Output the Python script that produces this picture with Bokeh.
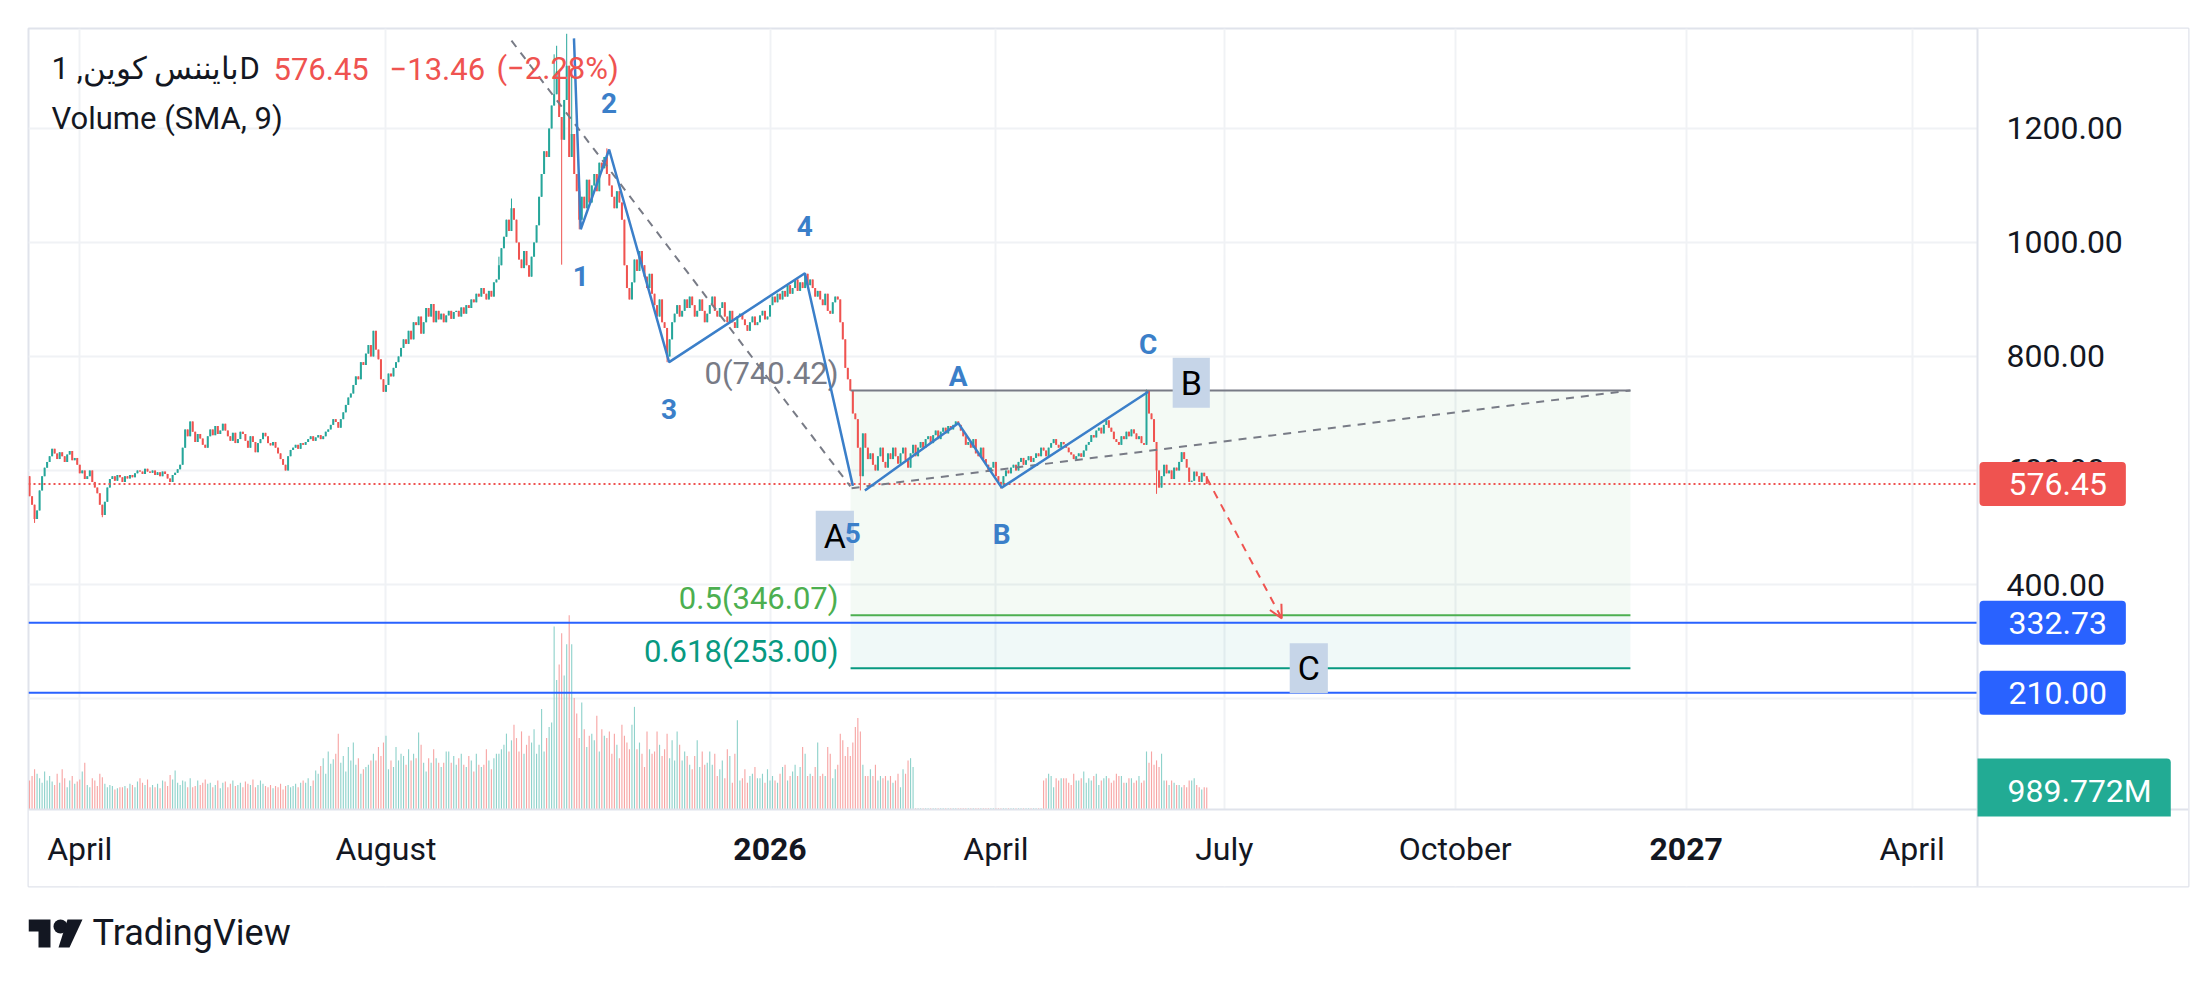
import pandas as pd
from bokeh.plotting import figure
from bokeh.models import (Range1d, FixedTicker, NumeralTickFormatter, Label, Arrow,
                          OpenHead, ColumnDataSource)
from bokeh.layouts import column
from bokeh.embed import file_html
from bokeh.resources import INLINE
from bokeh.core.properties import value

# ---------------- data ----------------
START_DATE = "2025-03-12"
FIRST_OPEN = 590.0
closes = [
    555, 540, 515, 530, 565, 590, 605, 615, 625, 638,
    630, 620, 632, 625, 615, 628, 634, 618, 622, 610,
    595, 600, 585, 590, 600, 580, 570, 560, 540, 522,
    545, 570, 585, 590, 582, 592, 588, 580, 590, 586,
    592, 588, 595, 600, 598, 594, 603, 598, 596, 600,
    592, 597, 590, 598, 594, 586, 580, 592, 596, 602,
    610, 640, 672, 660, 686, 668, 650, 664, 656, 645,
    640, 660, 672, 662, 678, 664, 670, 682, 670, 660,
    652, 666, 648, 655, 668, 664, 652, 640, 660, 650,
    632, 648, 655, 666, 660, 648, 644, 650, 640, 630,
    620, 610, 600, 625, 636, 640, 645, 638, 648, 645,
    650, 655, 660, 652, 658, 662, 655, 660, 668, 672,
    680, 690, 685, 675, 690, 702, 715, 728, 735, 750,
    765, 760, 790, 785, 805, 820, 800, 845, 812, 795,
    760, 738, 750, 770, 765, 780, 790, 800, 815, 830,
    822, 845, 830, 860, 855, 870, 840, 860, 885, 870,
    892, 860, 880, 865, 875, 860, 872, 880, 866, 878,
    880, 870, 886, 875, 890, 885, 900, 895, 910, 905,
    920, 910, 900, 915, 905, 930, 935, 960, 990, 1010,
    1040, 1020, 1060, 1040, 1000, 970, 955, 985, 960, 940,
    975, 1000, 1030, 1080, 1120, 1160, 1150, 1200, 1240, 1260,
    1300, 1220, 1180, 1250, 1310, 1150, 1190, 1120, 1090, 1040,
    1080, 1060, 1110, 1070, 1100, 1120, 1090, 1140, 1130, 1150,
    1120, 1100, 1080, 1060, 1090, 1070, 1040, 960, 920, 900,
    930, 970, 950, 985, 960, 940, 920, 945, 910, 890,
    870, 900, 860, 850, 800, 830, 860, 875, 890, 870,
    880, 900, 885, 905, 890, 870, 880, 900, 880, 860,
    875, 890, 905, 880, 870, 885, 895, 870, 860, 880,
    860, 850, 870, 875, 865, 855, 845, 860, 870, 855,
    860, 872, 880, 865, 870, 890, 905, 895, 910, 900,
    915, 905, 925, 910, 920, 935, 915, 930, 920, 945,
    925, 935, 920, 905, 915, 900, 890, 910, 880, 875,
    895, 905, 900, 860, 830, 780, 760, 740, 700, 690,
    640, 590, 665, 640, 620, 630, 610, 600, 625, 640,
    615, 605, 630, 620, 640, 625, 612, 630, 640, 618,
    605, 630, 645, 625, 640, 650, 640, 655, 660, 648,
    662, 670, 655, 668, 675, 665, 678, 672, 680, 686,
    680, 670, 660, 645, 650, 640, 655, 630, 625, 640,
    620, 610, 598, 605, 615, 590, 580, 575, 590, 600,
    595, 605, 610, 600, 615, 622, 610, 618, 625, 615,
    622, 630, 625, 640, 635, 625, 640, 648, 655, 645,
    640, 650, 646, 640, 632, 628, 620, 625, 630, 624,
    635, 645, 650, 662, 658, 670, 675, 665, 680, 688,
    675, 668, 655, 650, 645, 660, 655, 668, 660, 672,
    665, 655, 660, 648, 645, 740, 700, 690, 650, 600,
    570, 590, 610, 595, 600, 585, 605, 600, 615, 632,
    620, 605, 580, 582, 598, 590, 580, 596, 589.91, 576.45,
]
volumes_m = [
    1300, 1500, 1800, 1600, 1400, 1200, 1700, 1300, 1500, 1250,
    1100, 1600, 1200, 1800, 1400, 1000, 1300, 1500, 1150, 1250,
    1350, 1700, 2100, 1100, 1000, 1400, 1300, 1050, 1600, 1450,
    1150, 1000, 1100, 1050, 900, 950, 1000, 1000, 1050, 950,
    1150, 1100, 1000, 1250, 1400, 1200, 1100, 1350, 1000, 1100,
    1000, 1150, 950, 1300, 1250, 1050, 1550, 1350, 1750, 1200,
    1100, 1300, 1250, 1000, 1400, 1000, 1050, 1300, 1100, 1200,
    1350, 1150, 1200, 1000, 1100, 1300, 950, 1200, 1250, 1000,
    1150, 1300, 1050, 1100, 1200, 1000, 1250, 1150, 1100, 1350,
    1000, 1100, 1300, 1150, 1050, 1000, 1100, 950, 1050, 1000,
    1150, 900, 1050, 1100, 1000, 1050, 1150, 1000, 1200, 1300,
    1200, 1400, 1050, 1300, 1750, 1600, 1950, 2300, 1600, 2600,
    2050, 2250, 2500, 3400, 2100, 2400, 1700, 2800, 2200, 3000,
    2000, 2300, 1600, 1800, 1900, 2000, 2200, 2500, 2200, 2800,
    2400, 3000, 3300, 1800, 2200, 1900, 2800, 2200, 2500, 2400,
    2000, 2700, 2200, 2500, 2300, 3450, 2900, 2100, 1700, 2300,
    2100, 2700, 2300, 2100, 1900, 2100, 2600, 2600, 2100, 2400,
    2000, 2300, 2500, 2000, 1900, 2400, 2200, 1700, 2500, 2000,
    1900, 2000, 2700, 2200, 1800, 2300, 2500, 2500, 2700, 2900,
    3400, 2600, 3100, 3800, 3200, 2600, 3500, 2500, 2900, 3300,
    3000, 3600, 2500, 2900, 4500, 2600, 3200, 3700, 3900, 8200,
    5800, 6500, 7900, 6000, 7400, 8700, 7400, 5000, 4300, 3200,
    4800, 3600, 2800, 3300, 3400, 3100, 4200, 2600, 3600, 3300,
    3200, 3500, 2500, 3400, 2900, 2300, 3800, 3300, 3000, 2700,
    3800, 4600, 2700, 3000, 2500, 1900, 3500, 2700, 2500, 2600,
    3500, 2900, 2400, 2700, 3400, 2300, 3100, 2200, 3500, 2900,
    2200, 2600, 2400, 2000, 1800, 2400, 3100, 1900, 2600, 2000,
    2100, 2600, 2000, 2500, 1500, 1800, 2200, 1400, 2700, 2400,
    1200, 2500, 4000, 1300, 1400, 1800, 1200, 1500, 1600, 1900,
    1400, 1400, 1600, 1200, 1800, 1300, 1500, 1300, 1200, 1600,
    1900, 2000, 1300, 1500, 1700, 2000, 1500, 1900, 2800, 2500,
    1500, 1600, 1500, 1900, 3000, 1500, 1600, 1500, 2800, 2500,
    1400, 1800, 2000, 3400, 3100, 2400, 2800, 2400, 3000, 3700,
    4100, 3500, 2000, 1500, 1500, 1800, 1500, 2000, 1300, 1500,
    1400, 1500, 1300, 1500, 1200, 1300, 1600, 1000, 1800, 1600,
    2200, 2300, 1900, 60, 60, 60, 60, 60, 60, 60,
    60, 60, 60, 60, 60, 60, 60, 60, 60, 60,
    60, 60, 60, 60, 60, 60, 60, 60, 60, 60,
    60, 60, 60, 60, 60, 60, 60, 60, 60, 60,
    60, 60, 60, 60, 60, 60, 60, 60, 60, 60,
    60, 60, 60, 60, 1300, 1400, 1600, 1500, 1000, 1400,
    1300, 1400, 1400, 1400, 1200, 1100, 1600, 1300, 1300, 1400,
    1700, 1200, 1400, 1300, 1500, 1600, 1100, 1300, 1400, 1500,
    1400, 1200, 1300, 1600, 1500, 1500, 1200, 1200, 1400, 1400,
    1200, 1300, 1500, 1200, 1300, 2600, 2100, 2600, 2000, 2200,
    1900, 2500, 1300, 1300, 1100, 1300, 1200, 1100, 1100, 1000,
    1100, 1000, 1300, 1300, 1400, 1100, 1000, 900, 1000, 989.772,
]
wick_high = {187: 975, 192: 1077, 209: 1330, 210: 1345, 214: 1366, 216: 1300, 230: 1165, 445: 742}
wick_low = {2: 508, 29: 518, 212: 961, 219: 1023, 254: 790, 331: 565, 387: 568, 449: 559}

# Elliott impulse (day index from START_DATE, price) and labels
impulse_days = [216.9, 219.6, 230.9, 254.8, 308.9, 328.0]
impulse_prices = [1358, 1023, 1163, 790, 946, 573]
impulse_labels = ["", "1", "2", "3", "4", "5"]
# corrective ABC
abc_days = [332.8, 370.0, 387.3, 445.7]
abc_prices = [565, 683, 570, 738]
abc_labels = ["", "A", "B", "C"]

# trend lines (dashed grey) and projection (dashed red)
trend1_days = [192.0, 327.0]
trend1_prices = [1354, 572]
trend2_days = [327.5, 637.8]
trend2_prices = [569, 740.42]
proj_days = [469.0, 498.9]
proj_prices = [587, 340.6]

# fib retracement
fib_days = [327.1, 637.8]
fib_levels = [740.42, 346.07, 253.00]
fib_texts = ["0(740.42)", "0.5(346.07)", "0.618(253.00)"]

# horizontal levels
blue_levels = [332.73, 210.00]
LAST_PRICE = 576.45
LAST_VOLUME_TEXT = "989.772M"
TITLE_NAME = "بايننس كوين, 1D"
TITLE_PRICE = "576.45"
TITLE_CHG = "−13.46"
TITLE_PCT = "(−2.28%)"

x_ticks = ["2025-04-01", "2025-08-01", "2026-01-01", "2026-04-01",
           "2026-07-01", "2026-10-01", "2027-01-01", "2027-04-01"]
x_tick_labels = ["April", "August", "2026", "April", "July", "October", "2027", "April"]
x_tick_bold = [False, False, True, False, False, False, True, False]
y_ticks = [200, 400, 600, 800, 1000, 1200]

# ---------------- styles / geometry ----------------
GREEN = "#26a69a"
RED = "#ef5350"
VGREEN = "#8fd2cb"
VRED = "#f7a5a4"
WAVE_BLUE = "#3b7fc9"
TXT = "#131722"
GRID = "#f0f2f5"
BORDER = "#e0e3eb"
FONT = "Roboto"

FL, FT, FR, FB = 28, 28, 2188, 886      # outer chart frame on page
SEP_X, SEP_Y = 1977, 809                  # price-scale / time-scale separators
REF_DATE, REF_PX, PX_PER_DAY = pd.Timestamp("2026-01-01"), 769.5, 2.51
REF_PRICE, REF_PY, PX_PER_UNIT = 400.0, 584.0, 0.5701
VOL_PER_PX = 35000 / 781

def date_at(px):
    return REF_DATE + pd.Timedelta(days=(px - REF_PX) / PX_PER_DAY)
def ms(t):
    return t.value / 1e6
def xpx(px):
    return ms(date_at(px))
def ypx(py):
    return REF_PRICE + (REF_PY - py) / PX_PER_UNIT

X_START, X_END = date_at(FL), date_at(FR)
Y0, Y1 = ypx(FB), ypx(FT)
V0, V1 = -(FB - SEP_Y) * VOL_PER_PX, (SEP_Y - FT) * VOL_PER_PX

start = pd.Timestamp(START_DATE)
def day(d):
    return start + pd.Timedelta(days=float(d))

n = min(len(closes), len(volumes_m))
closes = closes[:n]
volumes_m = volumes_m[:n]
opens = [FIRST_OPEN] + closes[:-1]
dates = [day(i) for i in range(n)]
highs, lows, colors, vcolors, tops, bots = [], [], [], [], [], []
for i in range(n):
    o, c = opens[i], closes[i]
    highs.append(max(o, c, wick_high.get(i, 0)))
    lows.append(min(o, c, wick_low.get(i, 1e9)))
    up = c >= o
    colors.append(GREEN if up else RED)
    vcolors.append(VGREEN if up else VRED)
    tops.append(max(o, c)); bots.append(min(o, c))

src = ColumnDataSource(dict(date=dates, high=highs, low=lows, top=tops, bot=bots,
                            color=colors, vol=volumes_m, vcolor=vcolors))
DAY_MS = 86400000

p = figure(width=2200, height=898, x_axis_type="datetime", y_axis_location="right",
           x_range=Range1d(X_START, X_END), y_range=Range1d(Y0, Y1),
           toolbar_location=None, output_backend="svg",
           min_border_left=FL, min_border_top=FT,
           min_border_right=2200 - FR, min_border_bottom=898 - FB)
p.extra_y_ranges = {"vol": Range1d(V0, V1)}
p.background_fill_color = "white"
p.border_fill_color = "white"
p.outline_line_color = BORDER
p.outline_line_width = 2

# axes drawn at the scale separators inside the chart frame
tick_ms = [ms(pd.Timestamp(t)) for t in x_ticks]
p.xaxis.fixed_location = ypx(SEP_Y)
p.xaxis.ticker = FixedTicker(ticks=tick_ms)
p.xaxis.major_label_overrides = {t: ("" if b else lab) for t, lab, b in zip(tick_ms, x_tick_labels, x_tick_bold)}
p.xaxis.major_tick_line_color = None
p.xaxis.minor_tick_line_color = None
p.xaxis.axis_line_color = BORDER
p.xaxis.axis_line_width = 2
p.xaxis.major_label_text_font = FONT
p.xaxis.major_label_text_font_size = "32px"
p.xaxis.major_label_text_color = TXT
p.xaxis.major_label_standoff = 14

p.yaxis.fixed_location = xpx(SEP_X)
p.yaxis.ticker = FixedTicker(ticks=y_ticks)
p.yaxis.formatter = NumeralTickFormatter(format="0.00")
p.yaxis.major_tick_line_color = None
p.yaxis.minor_tick_line_color = None
p.yaxis.axis_line_color = BORDER
p.yaxis.axis_line_width = 2
p.yaxis.major_label_text_font = FONT
p.yaxis.major_label_text_font_size = "32px"
p.yaxis.major_label_text_color = TXT
p.yaxis.major_label_standoff = 23

p.xgrid.grid_line_color = GRID
p.xgrid.grid_line_width = 2
p.ygrid.grid_line_color = GRID
p.ygrid.grid_line_width = 2

# white backgrounds of the two scale areas (hide grid lines there)
p.quad(left=[xpx(SEP_X)], right=[xpx(FR)], bottom=[Y0], top=[Y1], fill_color="white", line_color=None)
p.quad(left=[xpx(FL)], right=[xpx(SEP_X)], bottom=[Y0], top=[ypx(SEP_Y)], fill_color="white", line_color=None)

# fib zones
p.quad(left=[day(fib_days[0])], right=[day(fib_days[1])], top=[fib_levels[0]], bottom=[fib_levels[1]],
       fill_color="#4caf50", fill_alpha=0.06, line_color=None)
p.quad(left=[day(fib_days[0])], right=[day(fib_days[1])], top=[fib_levels[1]], bottom=[fib_levels[2]],
       fill_color="#089981", fill_alpha=0.06, line_color=None)

# volume
p.vbar(x="date", top="vol", bottom=0, width=DAY_MS * 0.45, fill_color="vcolor", line_color=None,
       y_range_name="vol", source=src)

# candles
p.segment(x0="date", y0="low", x1="date", y1="high", line_color="color", line_width=1, source=src)
p.vbar(x="date", top="top", bottom="bot", width=DAY_MS * 0.8, fill_color="color", line_color=None, source=src)

# horizontal levels (stop at the price scale)
p.line(x=[X_START, date_at(SEP_X)], y=[LAST_PRICE, LAST_PRICE], line_color=RED, line_width=2, line_dash="2 3")
for lv in blue_levels:
    p.line(x=[X_START, date_at(SEP_X)], y=[lv, lv], line_color="#2962ff", line_width=2)

# fib lines and texts
fib_colors = ["#787b86", "#4caf50", "#089981"]
for lv, txt, col in zip(fib_levels, fib_texts, fib_colors):
    p.line(x=[day(fib_days[0]), day(fib_days[1])], y=[lv, lv], line_color=col, line_width=2)
    p.text(x=[day(fib_days[0])], y=[lv], text=[txt], x_offset=-12, y_offset=-17,
           text_align="right", text_baseline="middle", text_font=value(FONT),
           text_font_size="31px", text_color=col)

# dashed trend lines
p.line(x=[day(d) for d in trend1_days], y=trend1_prices, line_color="#787b86", line_width=2, line_dash="8 7")
p.line(x=[day(d) for d in trend2_days], y=trend2_prices, line_color="#787b86", line_width=2, line_dash="8 7")

# Elliott waves
p.line(x=[day(d) for d in impulse_days], y=impulse_prices, line_color=WAVE_BLUE, line_width=2.5)
p.line(x=[day(d) for d in abc_days], y=abc_prices, line_color=WAVE_BLUE, line_width=2.5)

# projection arrow
p.add_layout(Arrow(x_start=ms(day(proj_days[0])), y_start=proj_prices[0],
                   x_end=ms(day(proj_days[1])), y_end=proj_prices[1],
                   line_color=RED, line_width=2, line_dash="8 7",
                   end=OpenHead(line_color=RED, line_width=2, size=13)))

# boxed wave-degree labels
box_specs = [("A", impulse_days[-1], impulse_prices[-1], -18, -50),
             ("B", abc_days[-1], abc_prices[-1], 43, 9),
             ("C", proj_days[-1], proj_prices[-1], 27, -50)]
for txt, d, pr, dx, dy in box_specs:
    p.add_layout(Label(x=ms(day(d)), y=pr, x_offset=dx, y_offset=dy, text=txt,
                       text_align="center", text_baseline="middle", text_font=FONT,
                       text_font_size="34px", text_color="black",
                       background_fill_color="#c6d5e8",
                       padding=dict(left=8, right=8, top=5, bottom=5)))

# wave labels (drawn above the boxes)
for days_, prices_, labels_ in ((impulse_days, impulse_prices, impulse_labels),
                                (abc_days, abc_prices, abc_labels)):
    for i, (d, pr, lab) in enumerate(zip(days_, prices_, labels_)):
        if not lab:
            continue
        off = 47 if pr > prices_[i - 1] else -47
        p.add_layout(Label(x=ms(day(d)), y=pr, y_offset=off, text=lab, text_align="center",
                           text_baseline="middle", text_font=FONT, text_font_size="28px",
                           text_font_style="bold", text_color=WAVE_BLUE))

# legend texts
title_parts = [(TITLE_NAME, 51, TXT), (TITLE_PRICE, 273, RED), (TITLE_CHG, 389, RED), (TITLE_PCT, 496, RED)]
for txt, px, col in title_parts:
    p.add_layout(Label(x=xpx(px), y=ypx(68), text=txt, text_align="left", text_baseline="middle",
                       text_font=FONT, text_font_size="31px", text_color=col))
p.add_layout(Label(x=xpx(51), y=ypx(118), text="Volume (SMA, 9)", text_align="left",
                   text_baseline="middle", text_font=FONT, text_font_size="31px", text_color=TXT))

# bold year labels on the time axis
for t, lab, b in zip(tick_ms, x_tick_labels, x_tick_bold):
    if b:
        p.add_layout(Label(x=t, y=ypx(848), text=lab, text_align="center", text_baseline="middle",
                           text_font=FONT, text_font_size="32px", text_font_style="bold", text_color=TXT))

# price-scale tags (box starts at the separator)
for lv, col in [(LAST_PRICE, RED)] + [(b, "#2962ff") for b in blue_levels]:
    p.add_layout(Label(x=xpx(SEP_X + 2), y=lv, text=f"{lv:.2f}", text_align="left", text_baseline="middle",
                       text_font=FONT, text_font_size="32px", text_color="white",
                       background_fill_color=col, border_radius=4,
                       padding=dict(left=29, right=19, top=11, bottom=11)))
p.add_layout(Label(x=xpx(SEP_X), y=volumes_m[-1], y_range_name="vol", text=LAST_VOLUME_TEXT,
                   text_align="left", text_baseline="middle", text_font=FONT, text_font_size="32px",
                   text_color="white", background_fill_color="#22ab94",
                   border_radius=dict(top_left=0, top_right=4, bottom_right=0, bottom_left=0),
                   padding=dict(left=30, right=19, top=14, bottom=6)))

# ---------------- logo ----------------
logo = figure(width=2200, height=70, x_range=Range1d(FL, FR), y_range=Range1d(0, 70),
              toolbar_location=None, output_backend="svg",
              min_border_left=FL, min_border_right=2200 - FR, min_border_top=0, min_border_bottom=0,
              x_axis_location=None, y_axis_location=None)
logo.grid.visible = False
logo.outline_line_color = None
logo.patch(x=[28, 50, 50, 38, 38, 28], y=[49, 49, 21, 21, 37, 37], fill_color=TXT, line_color=None)
logo.circle(x=[60], y=[42], radius=7, fill_color=TXT, line_color=None)
logo.patch(x=[67, 82, 69, 58], y=[49, 49, 21, 21], fill_color=TXT, line_color=None)
logo.text(x=[92], y=[36], text=["TradingView"], text_font=value(FONT), text_font_size="36px",
          text_baseline="middle", text_color=TXT)

layout = column(p, logo)
open("out.html", "w").write(file_html(layout, INLINE))
